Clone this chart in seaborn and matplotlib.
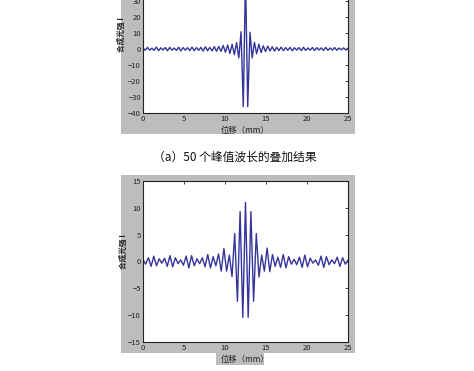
import numpy as np
import pandas as pd
import matplotlib
matplotlib.use("Agg")
import matplotlib.pyplot as plt
from matplotlib.patches import Rectangle
import seaborn as sns

# ---- data (extrema) ----
# (a) superposition of 50 peak wavelengths: extrema from 0 to 25 mm
top_values = [
    0.6, -0.8, 1.0, -0.7, 0.5, -0.9, 1.2, -1.0, 0.7, -0.6,
    0.9, -1.1, 1.0, -0.8, 0.6, -0.9, 1.1, -1.2, 0.9, -0.7,
    0.8, -1.0, 1.2, -1.1, 0.9, -0.8, 1.0, -1.3, 1.4, -1.1,
    1.0, -1.2, 1.5, -1.4, 1.6, -1.5, 2.2, -2.0, 2.5, -2.8,
    3.0, -3.5, 4.0, -5.6, 10.8, -36.0, 45.0, -36.0, 10.5, -5.6,
    4.2, -3.0, 3.0, -2.2, 2.0, -1.6, 1.8, -1.2, 1.4, -1.3,
    1.1, -1.0, 1.2, -1.1, 0.9, -0.8, 1.0, -1.1, 0.8, -0.7,
    0.9, -1.0, 1.1, -0.9, 0.7, -0.8, 1.0, -0.9, 0.8, -0.6,
    0.7, -0.9, 1.0, -0.8, 0.6, -0.7, 0.9, -0.8, 0.6, -0.5,
    0.7, -0.6, 0.5,
]
# second result: extrema from 0 to 25 mm
bottom_values = [
    0.3, -0.5, 0.7, -0.9, 1.0, -0.8, 0.5, -0.3, 0.6, -0.9,
    1.1, -1.0, 0.7, -0.4, 0.3, -0.7, 1.0, -1.2, 1.1, -0.8,
    0.5, -0.4, 0.7, -1.0, 1.3, -1.2, 0.9, -0.8, 1.4, -1.8,
    2.4, -1.8, 1.2, -2.8, 5.2, -7.4, 9.3, -10.4, 11.0, -10.4,
    9.3, -7.4, 5.2, -2.9, 1.2, -1.8, 2.5, -1.9, 1.3, -0.9,
    0.8, -1.1, 1.3, -1.2, 0.9, -0.5, 0.4, -0.6, 0.8, -1.1,
    1.2, -1.0, 0.6, -0.3, 0.3, -0.7, 1.0, -1.1, 0.9, -0.6,
    0.3, -0.4, 0.8, -0.9, 0.7, -0.5, 0.3,
]
x_ticks = [0, 5, 10, 15, 20, 25]
top_yticks = [-40, -30, -20, -10, 0, 10, 20, 30, 40]
bottom_yticks = [-15, -10, -5, 0, 5, 10, 15]
caption = "（a）50 个峰值波长的叠加结果"
xlabel = "位移（mm）"
ylabel = "合成光强 I"

top_df = pd.DataFrame({"x": np.linspace(0, 25, len(top_values)), "y": top_values})
bot_df = pd.DataFrame({"x": np.linspace(0, 25, len(bottom_values)), "y": bottom_values})

sns.set_theme(style="white")
plt.rcParams["font.family"] = ["Noto Sans CJK SC", "DejaVu Sans"]

W, H = 474, 371
fig = plt.figure(figsize=(W / 100, H / 100), dpi=100)
fig.patch.set_facecolor("white")

def px_rect(x0, y0, x1, y1, color):
    fig.patches.append(Rectangle((x0 / W, 1 - y1 / H), (x1 - x0) / W, (y1 - y0) / H,
                                 transform=fig.transFigure, facecolor=color,
                                 edgecolor="none", zorder=-5))

gray = "#bdbdbd"
px_rect(121, 0, 355, 134, gray)
px_rect(121, 175, 355, 353, gray)
px_rect(216, 353, 264, 365, gray)

def make_axes(x0, y0, x1, y1):
    ax = fig.add_axes([x0 / W, 1 - y1 / H, (x1 - x0) / W, (y1 - y0) / H])
    ax.set_zorder(2)
    return ax

line_color = "#34349a"

def style(ax, yticks, ylim):
    ax.set_facecolor("white")
    ax.set_xlim(0, 25)
    ax.set_ylim(*ylim)
    ax.set_xticks(x_ticks)
    ax.set_yticks(yticks)
    ax.tick_params(direction="in", length=2.5, width=0.6, labelsize=5.5,
                   colors="#222222", top=True, right=True, pad=1.5)
    for s in ax.spines.values():
        s.set_color("#222222")
        s.set_linewidth(0.8)
    ax.set_xlabel(xlabel, fontsize=6, color="#222222")
    ax.set_ylabel(ylabel, fontsize=5.5, color="#222222", fontweight="bold")

ax1 = make_axes(143, -15, 348, 113)
sns.lineplot(data=top_df, x="x", y="y", ax=ax1, color=line_color, linewidth=1.0,
             sort=False, estimator=None)
style(ax1, top_yticks, (-40, 40))
ax1.xaxis.set_label_coords(0.50, -0.10)
ax1.yaxis.set_label_coords(-0.085, 0.61)

ax2 = make_axes(143, 181, 348, 342)
sns.lineplot(data=bot_df, x="x", y="y", ax=ax2, color=line_color, linewidth=1.0,
             sort=False, estimator=None)
style(ax2, bottom_yticks, (-15, 15))
ax2.xaxis.set_label_coords(0.50, -0.08)
ax2.yaxis.set_label_coords(-0.075, 0.56)

fig.text(235 / W, 1 - 157 / H, caption, ha="center", va="center", fontsize=8.5,
         color="#111111")

fig.savefig("out.png", dpi=100)
